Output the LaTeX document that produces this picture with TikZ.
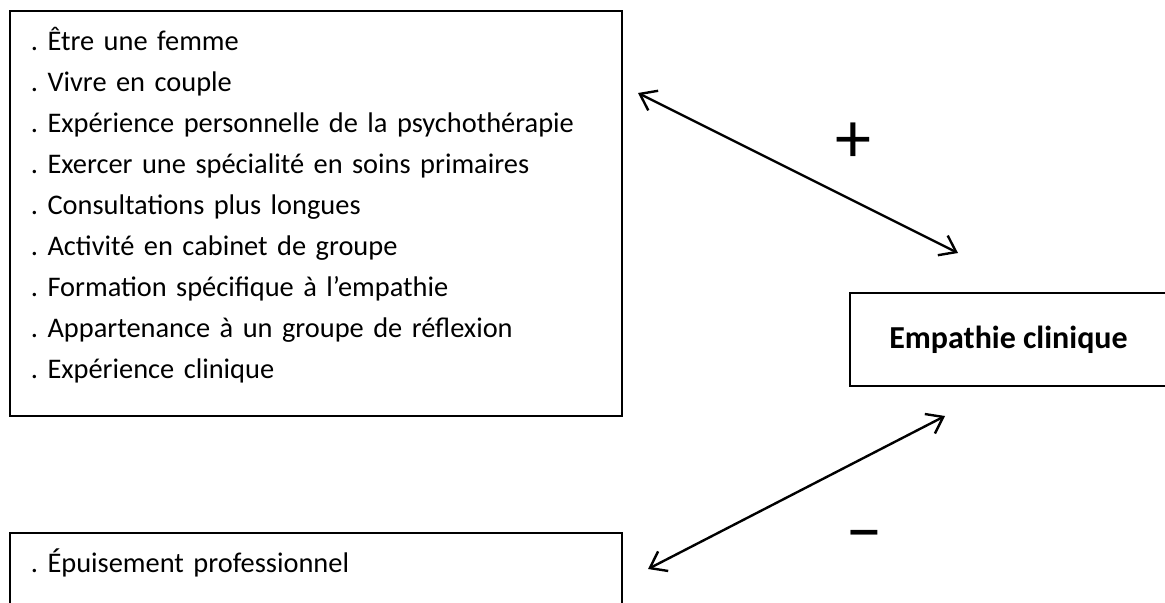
\documentclass[tikz,border=0pt]{standalone}
\usepackage{fontspec}
\setmainfont{Carlito}
\frenchspacing
\usetikzlibrary{arrows.meta}
\tikzstyle{cadre}=[draw, line width=0.9pt, text width=285pt, align=left,
  inner xsep=10.5pt, inner ysep=0pt, anchor=north west, text height=20pt,
  font=\fontsize{14.2pt}{20.5pt}\selectfont]
\tikzstyle{cible}=[draw, line width=0.9pt, minimum width=158.5pt,
  minimum height=46.5pt, font=\fontsize{16pt}{19pt}\selectfont\bfseries]
\tikzstyle{signe}=[inner sep=0pt, font=\fontsize{36pt}{40pt}\selectfont]
\tikzstyle{line} = [draw, line width=1.2pt,
  {Straight Barb[length=7.5pt,width=11pt]}-{Straight Barb[length=7.5pt,width=11pt]}]

\begin{document}
\begin{tikzpicture}[x=0.5pt,y=-0.5pt]

  \path [use as bounding box, fill=white] (0,0) rectangle (1165,603);

  \path (9,10) node (favorables) [cadre, text depth=182.5pt]
    {. Être une femme\\
     . Vivre en couple\\
     . Expérience personnelle de la psychothérapie\\
     . Exercer une spécialité en soins primaires\\
     . Consultations plus longues\\
     . Activité en cabinet de groupe\\
     . Formation spécifique à l’empathie\\
     . Appartenance à un groupe de réflexion\\
     . Expérience clinique};
  \path (9,532) node (defavorables) [cadre, text depth=60pt] {. Épuisement professionnel};
  \path (1008.5,339.5) node (empathie) [cible] {Empathie clinique};

  \path (853,143) node (plus) [signe] {+};
  \path (864,542.5) node (moins) [signe] {−};

  % extremites des fleches
  \coordinate (h1) at (638,93);
  \coordinate (h2) at (958,253);
  \coordinate (b1) at (945,416);
  \coordinate (b2) at (648,569);

  \path [line] (h1) -- (h2);
  \path [line] (b1) -- (b2);
\end{tikzpicture}
\end{document}
